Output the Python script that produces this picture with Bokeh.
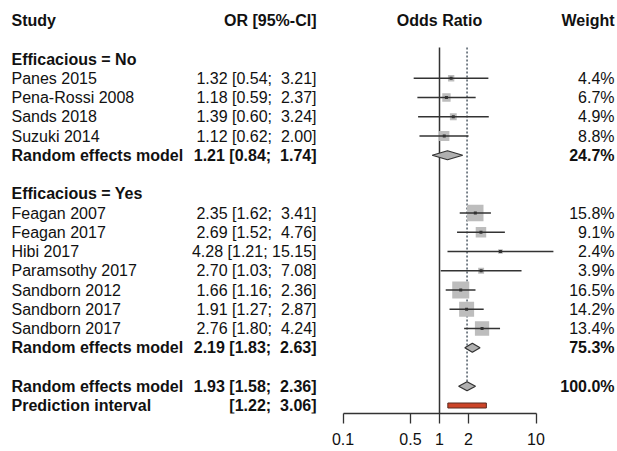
import math
from bokeh.plotting import figure
from bokeh.models import Range1d, LinearAxis, FixedTicker, CustomJSTickFormatter, ColumnDataSource
from bokeh.core.properties import value
from bokeh.embed import file_html
from bokeh.resources import INLINE

# ---------------- data ----------------
studies_no = ["Panes 2015", "Pena-Rossi 2008", "Sands 2018", "Suzuki 2014"]
or_no = [1.32, 1.18, 1.39, 1.12]
lo_no = [0.54, 0.59, 0.60, 0.62]
hi_no = [3.21, 2.37, 3.24, 2.00]
w_no = [4.4, 6.7, 4.9, 8.8]
re_no = [1.21, 0.84, 1.74]
w_re_no = 24.7

studies_yes = ["Feagan 2007", "Feagan 2017", "Hibi 2017", "Paramsothy 2017",
               "Sandborn 2012", "Sandborn 2017", "Sandborn 2017"]
or_yes = [2.35, 2.69, 4.28, 2.70, 1.66, 1.91, 2.76]
lo_yes = [1.62, 1.52, 1.21, 1.03, 1.16, 1.27, 1.80]
hi_yes = [3.41, 4.76, 15.15, 7.08, 2.36, 2.87, 4.24]
w_yes = [15.8, 9.1, 2.4, 3.9, 16.5, 14.2, 13.4]
re_yes = [2.19, 1.83, 2.63]
w_re_yes = 75.3

re_all = [1.93, 1.58, 2.36]
w_re_all = 100.0
pred_int = [1.22, 3.06]

axis_ticks = [0.1, 0.5, 1, 2, 10]
headers = ["Study", "OR [95%-CI]", "Odds Ratio", "Weight"]
group_labels = ["Efficacious = No", "Efficacious = Yes"]
re_label = "Random effects model"
pi_label = "Prediction interval"

# ---------------- layout helpers ----------------
W = 617
FH = 413
PX_ONE = 439.0       # pixel of OR = 1
PX_DEC = 96.5        # pixels per decade
Y0 = 20.0
STEP = 19.25
FONT = value("Liberation Sans")
FS = "16px"
TXT = "#111111"
LINE = "#333333"


def X(px):
    return (px - PX_ONE) / PX_DEC


def Yr(i):
    return Y0 + STEP * i


def lg(v):
    return [math.log10(a) for a in v]


def ci_str(lo, hi):
    return "[" + f"{lo:.2f}; " + f"{hi:5.2f}".replace(" ", "\u00a0") + "]"


def full_str(est, lo, hi):
    return f"{est:.2f} " + ci_str(lo, hi)


def wstr(w):
    return f"{w:.1f}%"


# row indices
r_header = 0
r_gno = 2
r_no = [3 + k for k in range(len(studies_no))]
r_re_no = r_no[-1] + 1
r_gyes = r_re_no + 2
r_yes = [r_gyes + 1 + k for k in range(len(studies_yes))]
r_re_yes = r_yes[-1] + 1
r_all = r_re_yes + 2
r_pi = r_all + 1

p = figure(frame_width=W, frame_height=FH, x_range=Range1d(X(0), X(W)),
           y_range=Range1d(FH, 0), output_backend="svg", toolbar_location=None,
           x_axis_location=None, y_axis_location=None, min_border=0,
           outline_line_color=None, background_fill_color="white",
           border_fill_color="white")
p.xgrid.visible = False
p.ygrid.visible = False

# ---------------- vertical reference lines ----------------
top_line = Yr(r_header) + 1.4 * STEP
p.segment(x0=[0], y0=[top_line], x1=[0], y1=[FH], line_color=LINE, line_width=1.5)
p.segment(x0=[math.log10(re_all[0])], y0=[top_line], x1=[math.log10(re_all[0])],
          y1=[Yr(r_all) - 4.5], line_color="#4f5b66", line_width=1.5, line_dash="2 2")

# ---------------- studies ----------------
all_or = or_no + or_yes
all_lo = lo_no + lo_yes
all_hi = hi_no + hi_yes
all_w = w_no + w_yes
all_rows = r_no + r_yes
ys = [Yr(r) for r in all_rows]
sizes = [2.5 + 14.5 * w / 16.5 for w in all_w]

src = ColumnDataSource(dict(x=lg(all_or), lo=lg(all_lo), hi=lg(all_hi), y=ys, s=sizes))
p.scatter(x="x", y="y", size="s", marker="square", source=src,
          fill_color="#bdbdbd", line_color=None)
p.segment(x0="lo", y0="y", x1="hi", y1="y", source=src, line_color=LINE, line_width=1.5)
p.scatter(x="x", y="y", size=3, marker="square", source=src,
          fill_color=LINE, line_color=None)

# ---------------- diamonds ----------------
dia = [re_no, re_yes, re_all]
dia_rows = [r_re_no, r_re_yes, r_all]
dxs, dys = [], []
for (e, l, h), r in zip(dia, dia_rows):
    y = Yr(r)
    dxs.append([math.log10(l), math.log10(e), math.log10(h), math.log10(e)])
    dys.append([y, y - 4.5, y, y + 4.5])
p.patches(xs=dxs, ys=dys, fill_color="#b0b0b0", line_color=LINE, line_width=1.3)

# ---------------- prediction interval ----------------
yp = Yr(r_pi)
p.quad(left=[math.log10(pred_int[0])], right=[math.log10(pred_int[1])],
       top=[yp - 2.5], bottom=[yp + 2.5], fill_color="#cc4428", line_color="#5a2a20",
       line_width=1)

# ---------------- text ----------------
COL_STUDY = X(11)
COL_OR = X(316)
COL_W = X(614)


def txt(xs, ys_, texts, align, bold):
    p.text(x=xs, y=ys_, text=texts, text_align=align, text_baseline="middle",
           text_font=FONT, text_font_size=FS, text_color=TXT,
           text_font_style="bold" if bold else "normal")


# headers
txt([COL_STUDY], [Yr(r_header)], [headers[0]], "left", True)
txt([COL_OR], [Yr(r_header)], [headers[1]], "right", True)
txt([0], [Yr(r_header)], [headers[2]], "center", True)
txt([COL_W], [Yr(r_header)], [headers[3]], "right", True)

# group labels
txt([COL_STUDY] * 2, [Yr(r_gno), Yr(r_gyes)], group_labels, "left", True)

# study rows
names = studies_no + studies_yes
txt([COL_STUDY] * len(names), ys, names, "left", False)
txt([COL_OR] * len(names), ys,
    [full_str(e, l, h) for e, l, h in zip(all_or, all_lo, all_hi)], "right", False)
txt([COL_W] * len(names), ys, [wstr(w) for w in all_w], "right", False)

# random-effects rows
re_ys = [Yr(r) for r in dia_rows]
txt([COL_STUDY] * 3, re_ys, [re_label] * 3, "left", True)
txt([COL_OR] * 3, re_ys, [full_str(*d) for d in dia], "right", True)
txt([COL_W] * 3, re_ys, [wstr(w) for w in (w_re_no, w_re_yes, w_re_all)], "right", True)

# prediction interval row
txt([COL_STUDY], [yp], [pi_label], "left", True)
txt([COL_OR], [yp], [ci_str(*pred_int)], "right", True)

# ---------------- axis ----------------
ax = LinearAxis(bounds=(math.log10(axis_ticks[0]), math.log10(axis_ticks[-1])),
                ticker=FixedTicker(ticks=lg(axis_ticks)),
                formatter=CustomJSTickFormatter(
                    code="const v = Math.pow(10, tick); return String(Math.round(v * 10) / 10);"),
                major_tick_out=10, major_tick_in=0, minor_tick_out=0, minor_tick_in=0,
                axis_line_color=LINE, major_tick_line_color=LINE, axis_line_width=1.3,
                major_tick_line_width=1.3,
                major_label_text_font="Liberation Sans", major_label_text_font_size=FS,
                major_label_text_color=TXT, major_label_standoff=9)
p.add_layout(ax, "below")

open("out.html", "w").write(file_html(p, INLINE))
